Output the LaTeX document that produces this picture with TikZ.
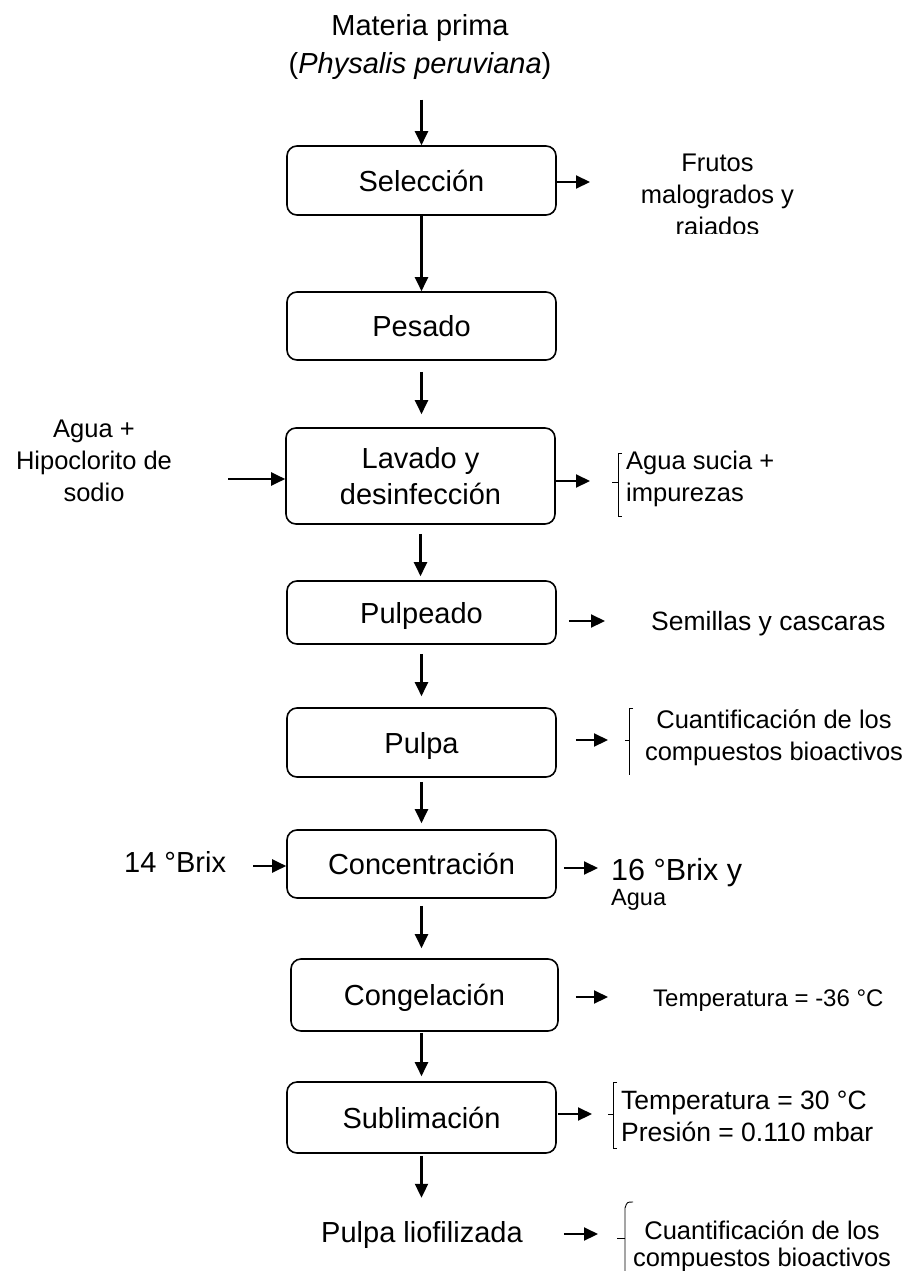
\documentclass[tikz,border=0pt]{standalone}
\usepackage{fontspec}
\setmainfont{Liberation Sans}
\usetikzlibrary{arrows.meta}
\begin{document}
\begin{tikzpicture}[x=1pt,y=-1pt,
  boxbase/.style={draw, line width=1.6pt, rounded corners=10pt, minimum width=269pt, inner sep=0pt, align=center, font=\fontsize{29}{36}\selectfont},
  stepbox/.style={boxbase, text height=21pt, text depth=0pt},
  big/.style={font=\fontsize{29}{38}\selectfont, inner sep=0pt, align=center},
  small/.style={font=\fontsize{25.5}{32}\selectfont, inner sep=0pt},
  flow/.style={line width=2.1pt, -{Triangle[length=14pt,width=13pt]}},
  brk/.style={line width=0.9pt}]
\useasboundingbox (0,0) rectangle (920,1271);

% main column
\node[big] (mp) at (420,47) {Materia prima\\(\textit{Physalis peruviana})};
\node[stepbox, minimum height=69pt] (sel) at (421.5,180.5) {Selección};
\node[stepbox, minimum height=68pt] (pes) at (421.5,326) {Pesado};
\node[boxbase, minimum height=96pt] (lav) at (420.5,476) {Lavado y\\desinfección};
\node[stepbox, minimum height=63pt] (pulpeado) at (421.5,612.5) {Pulpeado};
\node[stepbox, minimum height=69pt] (pulpa) at (421.5,742.5) {Pulpa};
\node[stepbox, minimum height=68pt] (conc) at (421.5,864) {Concentración};
\node[stepbox, minimum height=72pt, minimum width=267pt] (cong) at (424.5,995) {Congelación};
\node[stepbox, minimum height=71pt] (subl) at (421.5,1117.5) {Sublimación};
\node[big, anchor=base] (liof) at (422,1242) {Pulpa liofilizada};

% vertical arrows
\draw[flow, shorten <=20pt] (mp.south -| sel.north) -- (sel.north);
\draw[flow] (sel.south) -- (sel.south |- pes.north);
\draw[flow, shorten <=11pt, shorten >=13pt] (pes.south) -- (pes.south |- lav.north);
\draw[flow, shorten <=9pt, shorten >=4pt] (lav.south) -- (lav.south |- pulpeado.north);
\draw[flow, shorten <=9pt, shorten >=11pt] (pulpeado.south) -- (pulpeado.south |- pulpa.north);
\draw[flow, shorten <=4pt, shorten >=6pt] (pulpa.south) -- (pulpa.south |- conc.north);
\draw[flow, shorten <=7pt, shorten >=10pt] (conc.south) -- (conc.south |- cong.north);
\draw[flow, shorten <=1pt, shorten >=5pt] (cong.south -| subl.north) -- (subl.north);
\draw[flow, shorten <=2pt, shorten >=23pt] (subl.south) -- (subl.south |- liof.north);

% left inputs
\node[small, align=center] (agua) at (94,461) {Agua +\\Hipoclorito de\\sodio};
\coordinate (aguain) at (228,479);
\draw[flow] (aguain) -- (aguain -| lav.west);
\node[big, anchor=base west] (brix) at (124,872) {14 °Brix};
\coordinate (brixin) at (253,866);
\draw[flow] (brixin) -- (brixin -| conc.west);

% right outputs
\coordinate (selout) at (590,182);
\draw[flow] (sel.east |- selout) -- (selout);
\begin{scope}
\clip (600,120) rectangle (900,233);
\node[small, align=center] (frutos) at (717.5,197) {Frutos\\malogrados y\\rajados};
\end{scope}

\coordinate (lavout) at (590,481);
\draw[flow] (lav.east |- lavout) -- (lavout);
\draw[brk] (622,453) -- (618,453) -- (618,516) -- (622,516);
\draw[brk] (618,482) -- (612,482);
\node[small, align=left, anchor=west] (sucia) at (626,479) {Agua sucia +\\impurezas};

\coordinate (pulpeout) at (605,621);
\draw[flow, shorten <=12pt] (pulpeado.east |- pulpeout) -- (pulpeout);
\node[small, anchor=base west, font=\fontsize{26.5}{32}\selectfont] (semillas) at (651,630) {Semillas y cascaras};

\coordinate (pulpaout) at (608,740);
\draw[flow, shorten <=19pt] (pulpa.east |- pulpaout) -- (pulpaout);
\draw[brk] (633,708) -- (629,708) -- (629,775);
\draw[brk] (629,740) -- (625,740);
\node[small, align=center] (cuant1) at (774,737.5) {Cuantificación de los\\compuestos bioactivos};

\coordinate (concout) at (598,868);
\draw[flow, shorten <=7pt] (conc.east |- concout) -- (concout);
\node[big, anchor=base west, font=\fontsize{30.5}{36}\selectfont] (brixout) at (611,880) {16 °Brix y};
\node[small, anchor=base west, font=\fontsize{23.5}{28}\selectfont] (aguaout) at (611,905) {Agua};

\coordinate (congout) at (608,997);
\draw[flow, shorten <=17pt] (cong.east |- congout) -- (congout);
\node[small, anchor=base west, font=\fontsize{24}{30}\selectfont] (temp1) at (653,1006) {Temperatura = -36 °C};

\coordinate (sublout) at (592,1114);
\draw[flow, shorten <=1pt] (subl.east |- sublout) -- (sublout);
\draw[brk] (617,1082) -- (613,1082) -- (613,1148) -- (617,1148);
\draw[brk] (613,1114) -- (608,1114);
\node[small, align=left, anchor=west, font=\fontsize{26.5}{32}\selectfont] (temp2) at (621,1116) {Temperatura = 30 °C\\Presión = 0.110 mbar};

\coordinate (liofout) at (598,1234);
\draw[flow, shorten <=41pt] (liof.east |- liofout) -- (liofout);
\draw[brk] (633,1202) .. controls (627,1202) .. (625,1208) -- (625,1275);
\draw[brk] (625,1238) -- (617,1238);
\node[small, align=center, anchor=base, font=\fontsize{25.5}{27}\selectfont] (cuant2) at (762,1266) {Cuantificación de los\\compuestos bioactivos};
\end{tikzpicture}
\end{document}
